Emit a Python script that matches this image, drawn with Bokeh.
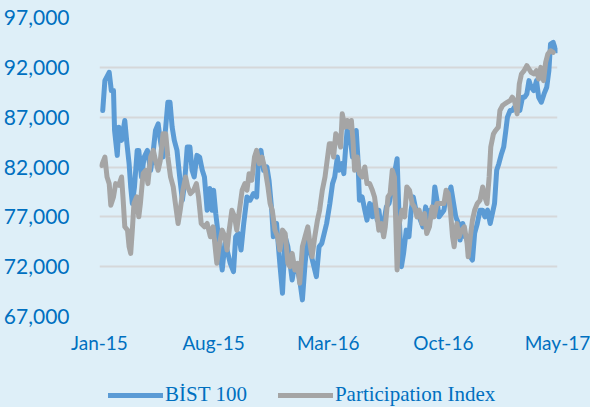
import pandas as pd
from bokeh.plotting import figure
from bokeh.layouts import column
from bokeh.models import (Range1d, FixedTicker, NumeralTickFormatter, DatetimeTickFormatter,
                          Legend, LegendItem)
from bokeh.embed import file_html
from bokeh.resources import INLINE

# ---- data (days since 2015-01-01, index level) ----
bist_days = [6, 10, 18, 22, 26, 28, 33, 36, 41, 47, 51, 55, 58, 61, 65, 70, 73, 78, 83, 89,
             95, 100, 104, 109, 113, 118, 123, 127, 131, 135, 139, 144, 149, 154, 158, 163, 168, 172, 176, 181,
             186, 191, 195, 200, 205, 209, 212, 216, 221, 228, 233, 237, 243, 249, 253, 258, 263, 268, 274, 280,
             286, 292, 295, 300, 305, 311, 315, 320, 323, 329, 335, 340, 345, 350, 354, 358, 363, 368, 372, 377,
             382, 387, 391, 397, 403, 408, 413, 422, 428, 433, 437, 442, 445, 450, 454, 457, 460, 465, 470, 474,
             477, 480, 483, 488, 493, 497, 502, 507, 511, 516, 519, 524, 528, 533, 538, 542, 548, 553, 556, 561,
             565, 570, 575, 579, 583, 588, 594, 601, 606, 610, 614, 619, 623, 627, 631, 640, 644, 648, 653, 658,
             662, 667, 670, 675, 679, 684, 689, 693, 697, 702, 707, 712, 716, 721, 726, 730, 734, 738, 742, 747,
             751, 755, 758, 763, 767, 771, 776, 781, 786, 790, 794, 798, 802, 807, 812, 816, 821, 826, 831, 835,
             838, 843, 847, 850]
bist_values = [87667, 90667, 91500, 89667, 89667, 85667, 83167, 86000, 84667, 86667, 84333, 82333, 80000, 78333, 80000, 83667, 83667, 81000, 83000, 83667,
               81667, 83667, 85667, 86333, 84667, 83000, 86000, 88500, 88500, 86000, 84667, 83667, 81000, 78667, 80333, 84000, 84000, 81667, 81000, 83167,
               83000, 81667, 81000, 77667, 79833, 77667, 79667, 77333, 75000, 71667, 74333, 73667, 72333, 71500, 75000, 75333, 73667, 76333, 79000, 78667,
               79333, 79000, 82333, 83667, 81667, 82000, 80667, 77667, 75000, 76333, 72333, 69333, 75000, 74000, 72333, 70667, 72333, 71667, 70667, 68667,
               72333, 75000, 73667, 72333, 71000, 74000, 74333, 76333, 78333, 80333, 81000, 83000, 81667, 82333, 81333, 83667, 85667, 85333, 83000, 84667,
               85667, 83000, 78667, 79000, 77667, 76667, 78333, 77000, 78333, 76667, 77667, 75667, 76333, 78000, 78333, 79333, 81333, 82833, 78000, 72000,
               73333, 75667, 75000, 77667, 79000, 77667, 77000, 76000, 78000, 76667, 77667, 77000, 80000, 78667, 77000, 77667, 79000, 79000, 80000, 78333,
               77000, 76333, 74667, 76333, 75000, 75000, 73000, 72667, 75333, 76333, 77667, 77667, 77000, 77667, 76333, 77333, 78333, 81667, 82333, 83333,
               84000, 85667, 87000, 87667, 87667, 88000, 88333, 87667, 89000, 89000, 89333, 90667, 90000, 89667, 90667, 89000, 88500, 89333, 90000, 91667,
               94333, 94500, 93833, 93667]

part_days = [4, 10, 14, 18, 21, 26, 30, 36, 41, 44, 47, 52, 55, 58, 61, 64, 69, 73, 76, 81,
             86, 90, 95, 100, 104, 109, 113, 118, 123, 127, 132, 137, 141, 146, 150, 155, 160, 164, 169, 175,
             180, 184, 189, 195, 200, 206, 211, 218, 223, 228, 233, 237, 241, 246, 251, 255, 260, 265, 270, 274,
             278, 283, 288, 292, 297, 302, 308, 313, 317, 321, 326, 331, 335, 340, 345, 350, 354, 358, 363, 368,
             372, 377, 382, 387, 391, 395, 400, 405, 409, 414, 419, 427, 431, 435, 439, 443, 448, 451, 456, 460,
             464, 468, 471, 474, 479, 483, 488, 493, 497, 502, 507, 511, 516, 519, 524, 528, 531, 536, 540, 544,
             548, 553, 557, 562, 567, 571, 576, 581, 585, 590, 594, 599, 604, 608, 613, 618, 622, 627, 631, 640,
             644, 648, 652, 656, 659, 664, 668, 673, 678, 683, 685, 689, 693, 697, 702, 707, 712, 716, 720, 724,
             727, 732, 736, 741, 744, 749, 753, 758, 763, 767, 771, 776, 780, 784, 789, 794, 798, 802, 807, 812,
             816, 820, 825, 829, 833, 838, 843]
part_values = [82167, 83000, 81000, 80333, 78167, 79000, 80333, 80167, 81000, 78667, 76000, 75667, 74000, 73333, 75667, 78333, 79000, 77000, 78333, 81333,
               81667, 80333, 83000, 83667, 82667, 81667, 82667, 85333, 85333, 83000, 81000, 80000, 78333, 76333, 77667, 79667, 81000, 80000, 79333, 79667,
               80333, 79000, 76333, 76000, 76333, 75000, 76000, 72333, 74333, 75667, 75000, 73667, 75667, 77667, 77000, 75667, 77667, 79667, 80333, 79667,
               81333, 80667, 83000, 83667, 82333, 83000, 81667, 80000, 78333, 77667, 75667, 75000, 73667, 75667, 75333, 72333, 72000, 73333, 71667, 72333,
               70333, 74000, 75000, 76000, 74333, 73000, 75000, 76667, 77667, 79667, 81000, 84333, 84333, 83000, 85333, 85000, 84000, 87333, 86000, 86667,
               86000, 86667, 84667, 81667, 83000, 81333, 81000, 82000, 80333, 80333, 79667, 79000, 77000, 75667, 76333, 75000, 76000, 79000, 79333, 81667,
               81000, 71667, 76333, 77667, 77000, 80000, 79667, 78333, 78000, 77000, 77667, 76333, 77333, 75333, 76000, 78000, 77000, 78333, 78333, 78333,
               79667, 79333, 77667, 75000, 74000, 76333, 75000, 75667, 76000, 74333, 73000, 75000, 76667, 77667, 78333, 78667, 80000, 79000, 78333, 81000,
               84000, 85333, 85667, 86000, 87667, 88167, 88333, 88500, 88667, 89000, 88667, 87333, 90333, 91333, 91667, 92167, 91833, 91500, 91333, 91667,
               90833, 92000, 90667, 92500, 93333, 93667, 93500]

series_names = ["BİST 100", "Participation Index"]
y_ticks = [67000, 72000, 77000, 82000, 87000, 92000, 97000]
x_tick_dates = ["2015-01-01", "2015-08-01", "2016-03-01", "2016-10-01", "2017-05-01"]

BG = "#DEEFF8"
BLUE = "#5B9BD5"
GREY = "#A5A5A5"
TXT = "#0070C0"

start = pd.Timestamp("2015-01-01")
bist_x = start + pd.to_timedelta(bist_days, unit="D")
part_x = start + pd.to_timedelta(part_days, unit="D")
tick_ts = pd.to_datetime(x_tick_dates)
tick_ms = [int(t.value // 10**6) for t in tick_ts]

W = 590
p = figure(width=W, height=362, x_axis_type="datetime", output_backend="svg",
           toolbar_location=None,
           x_range=Range1d(tick_ts[0], tick_ts[-1]), y_range=Range1d(y_ticks[0], y_ticks[-1]),
           min_border_left=97, min_border_right=33, min_border_top=17, min_border_bottom=46)
p.background_fill_color = BG
p.border_fill_color = BG
p.outline_line_color = None

line_style = dict(line_width=5, line_join="round", line_cap="round")
p.line(bist_x, bist_values, line_color=BLUE, **line_style)
p.line(part_x, part_values, line_color=GREY, **line_style)

p.xgrid.grid_line_color = None
p.ygrid.grid_line_color = "#D5D8DA"
p.ygrid.grid_line_width = 2
p.yaxis.ticker = FixedTicker(ticks=y_ticks)
p.yaxis.formatter = NumeralTickFormatter(format="0,0")
p.xaxis.ticker = FixedTicker(ticks=tick_ms)
fmt = "%b-%y"
p.xaxis.formatter = DatetimeTickFormatter(days=fmt, months=fmt, years=fmt, hours=fmt,
                                          minutes=fmt, seconds=fmt, milliseconds=fmt, minsec=fmt, hourmin=fmt)
for ax in (p.xaxis[0], p.yaxis[0]):
    ax.axis_line_color = None
    ax.major_tick_line_color = None
    ax.minor_tick_line_color = None
    ax.major_label_text_color = TXT
    ax.major_label_text_font = "Lato"
p.yaxis.major_label_text_font_size = "21px"
p.yaxis.major_label_standoff = 24
p.xaxis.major_label_text_font_size = "19px"
p.xaxis.major_label_standoff = 8

# ---- legend strip below the chart (series drawn off-view, only their legend glyphs show) ----
lg = figure(width=W, height=45, x_axis_type="datetime", output_backend="svg", toolbar_location=None,
            x_range=Range1d(tick_ts[0], tick_ts[-1]), y_range=Range1d(0, 1),
            x_axis_location=None, y_axis_location=None, min_border=0)
lg.background_fill_color = BG
lg.border_fill_color = BG
lg.outline_line_color = None
lg.grid.visible = False
k1 = lg.line(bist_x, bist_values, line_color=BLUE, **line_style)
k2 = lg.line(part_x, part_values, line_color=GREY, **line_style)

legend = Legend(items=[LegendItem(label=series_names[0], renderers=[k1]),
                       LegendItem(label=series_names[1], renderers=[k2])],
                location=(9, 0), orientation="horizontal")
legend.padding = 0
legend.margin = 0
legend.spacing = 31
legend.label_standoff = 2
legend.glyph_width = 55
legend.glyph_height = 24
legend.label_height = 24
legend.label_text_font = "Liberation Serif"
legend.label_text_font_size = "21px"
legend.label_text_color = TXT
legend.background_fill_alpha = 0
legend.border_line_color = None
lg.add_layout(legend, "center")

layout = column(p, lg, spacing=0)
html = file_html(layout, INLINE)
i = html.rfind("<body")
j = html.find(">", i)
html = html[:i] + '<body style="background-color:%s;">' % BG + html[j + 1:]
open("out.html", "w").write(html)
